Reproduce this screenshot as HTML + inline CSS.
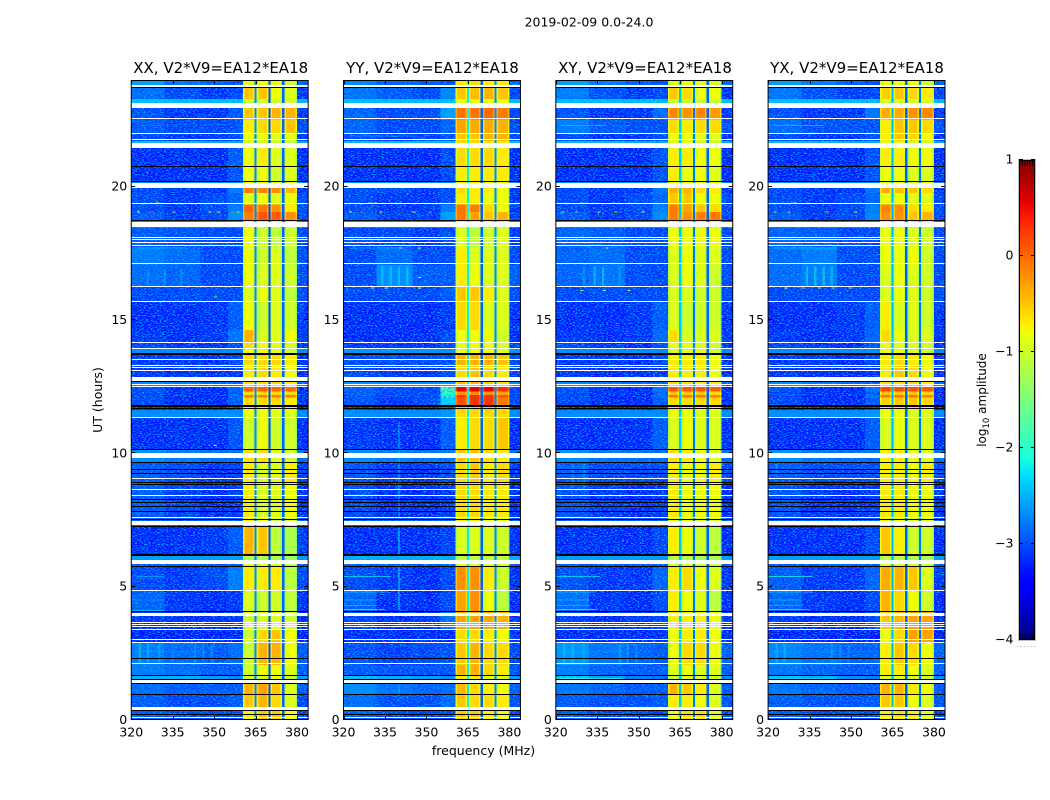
<!DOCTYPE html>
<html lang="en">
<head>
<meta charset="utf-8">
<title>2019-02-09 0.0-24.0</title>
<style>
html,body{margin:0;padding:0;background:#fff;}
svg{display:block;}
text{font-family:"DejaVu Sans","Liberation Sans",sans-serif;fill:#000;}
.tick{font-size:12.5px;}
.ptitle{font-size:15px;text-anchor:middle;}
</style>
</head>
<body>
<svg id="fig" xmlns="http://www.w3.org/2000/svg" width="1050" height="800" viewBox="0 0 1050 800">
  <defs>
    <linearGradient id="cbGrad" x1="0" y1="1" x2="0" y2="0"></linearGradient>
    <filter id="grain" x="0" y="0" width="100%" height="100%" color-interpolation-filters="sRGB">
      <feTurbulence type="fractalNoise" baseFrequency="0.45 0.9" numOctaves="2" seed="7"/>
      <feColorMatrix type="matrix" values="0 0 0 0 0  0 0 0 0 0.62  0 0 0 0 1  7 0 0 0 -3.6"/>
    </filter>
  </defs>
  <rect width="1050" height="800" fill="#fff"/>
  <text x="589" y="26.5" text-anchor="middle" font-size="12.5">2019-02-09 0.0-24.0</text>
  <text class="ptitle" x="220.7" y="73">XX, V2*V9=EA12*EA18</text>
  <text class="ptitle" x="432.5" y="73">YY, V2*V9=EA12*EA18</text>
  <text class="ptitle" x="645" y="73">XY, V2*V9=EA12*EA18</text>
  <text class="ptitle" x="857" y="73">YX, V2*V9=EA12*EA18</text>
  <text font-size="12.5" text-anchor="middle" transform="translate(102,400) rotate(-90)">UT (hours)</text>
  <text font-size="12.5" text-anchor="middle" x="483.5" y="755">frequency (MHz)</text>
  <text font-size="12" text-anchor="middle" transform="translate(986,400) rotate(-90)">log<tspan font-size="8.5" dy="3">10</tspan><tspan dy="-3"> amplitude</tspan></text>
  <g id="panels"></g>
  <g id="colorbar">
    <rect x="1019" y="160" width="16" height="480" fill="url(#cbGrad)"/>
    <rect x="1018.5" y="159.5" width="17" height="481" fill="none" stroke="#bdbdbd" stroke-width="1"/>
    <rect x="1019.5" y="160.5" width="15" height="479" fill="none" stroke="#000" stroke-width="1"/>
    <line x1="1017" x2="1035" y1="646.5" y2="646.5" stroke="#aaa" stroke-width="1" stroke-dasharray="1 2.4"/>
  </g>
</svg>
<script>
// ---- axis labels ----
const xTickValues = [320, 335, 350, 365, 380];
const yTickValues = [0, 5, 10, 15, 20];
const colorbarTicks = [-4, -3, -2, -1, 0, 1];
const colorbarMinorTicks = [1, 2, 3, 4, 5];

// ---- frequency columns (MHz) ----
const lowEdges = [320, 332, 345, 355, 360.5];
const blockEdges = [[360.5, 364.6], [365.4, 369.6], [370.4, 374.6], [375.4, 380]];
const tailEdges = [380, 384];
const blockRollOff = -0.28;
const rollOffWidth = 0.55;

// ---- start hour of each time band (the last runs to 24) ----
const bandStartHours = [0,.49,.94,1.35,1.5,1.67,2.06,2.89,3.38,4.05,4.84,5.74,5.99,6.15,7.28,7.58,8.89,9.67,10.12,11.32,11.62,11.81,12.09,12.19,12.31,12.5,12.71,13.31,13.69,13.91,14.14,14.62,15.68,16.24,17.06,17.74,18.45,18.67,18.73,19.05,19.33,19.77,19.99,20.2,20.78,21.45,21.71,21.97,22.52,22.95,23.29,23.7];

// ---- log10 amplitude per band: [low1, low2, low3, low4, block1, block2, block3, block4] ----
const xxLevels = [
[-3,-3.1,-3.1,-3.1,-.7,-.5,-.5,-.8],[-3,-3.1,-3.1,-3,-.5,-.4,-.6,-.9],[-2.9,-3,-3,-3,-.4,-.3,-.5,-.9],[-3,-3,-3,-3,-.6,-.6,-.7,-.9],
[-2.5,-2.5,-2.6,-2.7,-1,-.9,-.9,-1],[-2.8,-2.9,-3,-3,-1,-.8,-.8,-.9],[-2.8,-2.9,-3,-2.9,-1,-.4,-.4,-.8],[-3.3,-3.3,-3.3,-3.3,-1,-.6,-.5,-.8],
[-3.2,-3.25,-3.25,-3.2,-1,-.9,-.9,-1],[-2.95,-3.2,-3.25,-3.2,-.9,-1,-1,-1.1],[-3.1,-3.2,-3.1,-2.8,-.7,-.7,-.7,-1.1],[-3,-3,-3,-3,-.9,-.9,-1,-1.1],
[-2.6,-2.6,-2.6,-2.6,-1.2,-1.2,-1.2,-1.3],[-3.25,-3.25,-3.2,-3,-.4,-.5,-1.1,-1.2],[-3,-3,-3,-3,-.7,-.8,-1,-.9],[-3,-3.15,-3.25,-3.2,-.7,-.9,-.9,-.8],
[-3,-3.1,-3.2,-3.2,-.7,-.9,-.9,-.7],[-2.7,-2.8,-2.9,-2.9,-.6,-.6,-.9,-1],[-3.25,-3.25,-3.25,-3.05,-1,-.8,-1,-1],[-2.7,-2.7,-2.7,-2.7,-.8,-.8,-.9,-.9],
[-3.25,-3.25,-3.25,-3.1,-.8,-.8,-.8,-.9],[-3.1,-3.25,-3.25,-3,-.6,-.6,-.6,-.7],[-3.1,-3.25,-3.25,-2.9,-.1,-.1,-.1,-.1],[-3.1,-3.2,-3.25,-3,-.6,-.6,-.6,-.6],
[-3.05,-3.25,-3.25,-2.9,0,.05,0,0],[-2.7,-2.8,-2.9,-2.9,-.6,-.6,-.6,-.7],[-3.2,-3.25,-3.25,-3.2,-.7,-.6,-.7,-.8],[-3.2,-3.2,-3.25,-3.1,-.6,-.6,-.6,-.7],
[-2.7,-2.7,-2.7,-2.7,-.8,-.8,-.9,-1],[-3.1,-3.2,-3.25,-3.1,-.6,-.8,-.9,-1],[-3.2,-3.25,-3.2,-2.85,-.4,-.9,-.9,-.8],[-3.25,-3.25,-3.2,-3,-.8,-1,-.9,-1],
[-3.1,-3.1,-3.1,-3.1,-.9,-.8,-.9,-1.1],[-2.9,-2.95,-3.1,-3.1,-.8,-.9,-.9,-1],[-2.8,-2.9,-3.1,-3.1,-.8,-1,-.9,-1.1],[-3,-3.05,-3.1,-3.1,-.8,-1,-1.1,-1],
[-2.8,-2.8,-2.8,-2.8,-.8,-.9,-1,-1],[-2.8,-2.8,-2.8,-2.8,-.8,-.9,-1,-1],[-3,-3.2,-3.1,-2.7,-.1,.1,.05,-.2],[-3.1,-3.2,-3.1,-2.8,0,-.1,-.2,-.7],
[-3.1,-3.2,-3.1,-2.95,-.9,-.8,-.9,-.8],[-3.1,-3.2,-3.2,-2.8,-.1,-.15,-.2,-.4],[-2.7,-2.7,-2.7,-2.7,-.8,-.8,-.9,-.9],[-3.25,-3.25,-3.25,-3.05,-.8,-.8,-1,-.9],
[-3.25,-3.25,-3.25,-3,-.8,-.7,-.9,-.9],[-2.4,-2.4,-2.5,-2.5,-1,-1,-1.1,-1.1],[-3.1,-3.2,-3.2,-3.1,-.8,-.8,-.9,-.9],[-3,-3.1,-3.1,-3.05,-.7,-.6,-.6,-.5],
[-3.05,-3.2,-3.2,-3,-.5,-.5,-.4,-.4],[-2.4,-2.4,-2.4,-2.4,-1,-1,-1,-1],[-2.9,-3.1,-3.2,-3.1,-.5,-.5,-.8,-.9],[-2.6,-2.85,-2.95,-3.05,-.9,-.8,-.9,-1]
];
const yyLevels = [
[-2.95,-3.1,-3.1,-3.1,-.5,-.5,-.7,-.8],[-2.9,-3.05,-3.05,-2.9,-.5,-.6,-.6,-.7],[-2.7,-2.85,-2.95,-2.9,-.4,-.6,-.7,-.8],[-2.9,-3,-3,-3,-.5,-.6,-.7,-.8],
[-2.4,-2.5,-2.6,-2.7,-.7,-.7,-.8,-.9],[-3,-3.05,-3.05,-3.05,-.4,-.4,-.6,-.7],[-3.05,-3.15,-3.1,-3.05,-.5,-.4,-.6,-.6],[-3.25,-3.25,-3.25,-3.25,-.6,-.6,-.7,-.8],
[-3.1,-3.25,-3.2,-2.85,-.3,-.3,-.3,-.4],[-2.95,-3.25,-3.25,-3.1,-.3,-.2,-.8,-1.1],[-3.1,-3.2,-3.25,-3.1,-.2,-.2,-.7,-1],[-3,-3,-3,-3,-.9,-.9,-.9,-1],
[-2.5,-2.5,-2.5,-2.5,-1.1,-1.1,-1.1,-1.1],[-3.25,-3.25,-3.25,-3.15,-.9,-.9,-.9,-1],[-3,-3,-3,-3,-.7,-.7,-.8,-.8],[-3.1,-3.25,-3.25,-3.2,-.6,-.6,-.7,-.7],
[-3.05,-3.2,-3.2,-3.1,-.6,-.5,-.7,-.6],[-2.7,-2.8,-2.85,-2.85,-.5,-.5,-.6,-.7],[-3.2,-3.25,-3.25,-3,-.7,-.6,-.6,-.5],[-2.7,-2.7,-2.7,-2.65,-.6,-.6,-.6,-.6],
[-3.2,-3.25,-3.25,-3,-.5,-.5,-.5,-.6],[-3.05,-3.2,-3.1,-2.3,.15,.3,.3,-.1],[-3,-3.1,-3.1,-1.9,.3,.35,.3,.1],[-3,-3.1,-3.1,-2,-.2,-.2,-.2,-.3],
[-2.95,-3.1,-3.1,-1.7,.55,.55,.55,.3],[-2.65,-2.7,-2.7,-2.6,-.4,-.4,-.5,-.6],[-3.1,-3.2,-3.2,-3.1,-.6,-.5,-.6,-.7],[-3.1,-3.1,-3.1,-3.05,-.4,-.4,-.4,-.5],
[-2.65,-2.65,-2.65,-2.65,-.8,-.8,-.8,-.9],[-3.2,-3.2,-3.2,-3.1,-.9,-.8,-.8,-.9],[-3.25,-3.25,-3.25,-3.1,-.8,-.8,-.8,-1],[-3.25,-3.25,-3.25,-3.2,-.6,-.6,-.9,-.9],
[-3.1,-3.1,-3.1,-3,-.5,-.5,-.7,-.9],[-3.1,-2.7,-3,-3,-.7,-.8,-.9,-.9],[-3.1,-2.9,-3.1,-3.1,-.7,-.9,-.9,-.9],[-3.1,-3.1,-3.2,-3.1,-.9,-1.1,-1,-.9],
[-2.8,-2.8,-2.8,-2.8,-.8,-.9,-1,-1],[-2.8,-2.8,-2.8,-2.8,-.8,-.9,-1,-1],[-3,-3.15,-3.15,-2.6,-.1,-.3,-.5,-.4],[-3.1,-3.2,-3.2,-2.8,-.05,-.1,-.6,-.8],
[-3.1,-3.2,-3.2,-3.1,-.7,-.7,-.8,-.8],[-3.1,-3.1,-3.2,-3.1,-.6,-.7,-.7,-.8],[-2.65,-2.65,-2.7,-2.7,-.7,-.7,-.8,-.8],[-3.25,-3.25,-3.25,-3.1,-.7,-.7,-.7,-.7],
[-3.25,-3.25,-3.25,-3.1,-.6,-.6,-.6,-.7],[-2.4,-2.4,-2.4,-2.4,-.6,-.6,-.7,-.7],[-3.1,-3.2,-3.1,-3.05,-.5,-.5,-.4,-.4],[-2.95,-3.1,-3.1,-2.95,-.3,-.35,-.35,-.4],
[-2.95,-3.1,-3.1,-2.6,-.05,-.05,0,-.1],[-2.4,-2.4,-2.4,-2.4,-.8,-.8,-.8,-.8],[-2.85,-3,-3.1,-2.75,-.5,-.45,-.4,-.5],[-2.75,-2.95,-3,-3.05,-.7,-.6,-.7,-.7]
];
const xyLevels = [
[-3,-3.1,-3.1,-3.1,-.8,-.6,-.6,-.9],[-3,-3.05,-3.05,-3,-.7,-.7,-.8,-.9],[-2.85,-2.95,-3,-3,-.4,-.5,-.7,-.9],[-3,-3,-3,-3,-.7,-.7,-.8,-.9],
[-2.3,-2.6,-2.8,-2.9,-1,-.9,-.9,-1],[-2.8,-2.95,-3,-3,-.9,-.8,-.9,-.9],[-2.65,-2.85,-2.95,-3,-.8,-.6,-.6,-.8],[-3.25,-3.25,-3.25,-3.25,-.8,-.7,-.7,-.8],
[-3.15,-3.25,-3.2,-3.1,-.7,-.7,-.7,-.8],[-2.9,-3.2,-3.25,-3.1,-.7,-.8,-.9,-1.1],[-3.05,-3.2,-3.2,-2.95,-.7,-.6,-.8,-.9],[-3,-3,-3,-3,-.9,-1,-1,-1.1],
[-2.6,-2.6,-2.6,-2.6,-1.1,-1.1,-1.2,-1.2],[-3.25,-3.25,-3.25,-3.1,-.7,-.8,-1,-1.1],[-3,-3,-3,-3,-.8,-.8,-.9,-.9],[-3.05,-3.2,-3.25,-3.2,-.7,-.8,-.8,-.8],
[-3,-3.1,-3.1,-3.1,-.7,-.8,-.8,-.7],[-2.7,-2.85,-2.9,-2.9,-.6,-.7,-.8,-.9],[-3.25,-3.25,-3.25,-3,-.9,-.8,-.9,-.9],[-2.7,-2.7,-2.7,-2.7,-.8,-.8,-.9,-.9],
[-3.25,-3.25,-3.25,-3.1,-.7,-.7,-.8,-.8],[-3.1,-3.25,-3.25,-3,-.6,-.6,-.6,-.6],[-3.1,-3.25,-3.25,-2.9,-.05,-.05,-.05,-.1],[-3.1,-3.2,-3.25,-3,-.5,-.5,-.5,-.6],
[-3.05,-3.25,-3.25,-2.85,.1,.1,.1,.05],[-2.7,-2.8,-2.9,-2.9,-.6,-.6,-.7,-.7],[-3.2,-3.25,-3.25,-3.2,-.7,-.7,-.7,-.8],[-3.2,-3.2,-3.25,-3.1,-.7,-.7,-.7,-.8],
[-2.7,-2.7,-2.7,-2.7,-.9,-.9,-.9,-1],[-3.1,-3.2,-3.25,-3.05,-.8,-.9,-.9,-1],[-3.2,-3.25,-3.2,-2.9,-.6,-.9,-.9,-.9],[-3.25,-3.25,-3.2,-3,-.9,-1,-1,-1],
[-3.1,-3.1,-3.1,-3.1,-.9,-.9,-1,-1],[-2.95,-2.85,-3.1,-3.1,-.9,-.8,-.9,-1],[-2.95,-2.9,-3.1,-3.1,-.9,-.8,-.9,-.9],[-2.95,-3,-3.1,-3.1,-.8,-.8,-.8,-.8],
[-2.8,-2.8,-2.8,-2.8,-.8,-.9,-1,-1],[-2.8,-2.8,-2.8,-2.8,-.8,-.9,-1,-1],[-3,-3.2,-3.1,-2.7,-.1,-.2,-.1,-.1],[-3.1,-3.2,-3.1,-2.8,-.1,-.3,-.5,-.6],
[-3.1,-3.2,-3.1,-2.95,-.5,-.5,-.8,-.8],[-3.1,-3.2,-3.2,-2.85,-.35,-.4,-.6,-.7],[-2.7,-2.7,-2.7,-2.7,-.8,-.8,-.9,-.9],[-3.25,-3.25,-3.25,-3.05,-.7,-.8,-.8,-.9],
[-3.25,-3.25,-3.25,-3.05,-.7,-.7,-.8,-.8],[-2.4,-2.4,-2.5,-2.5,-.9,-.9,-1,-1],[-3.1,-3.2,-3.2,-3.05,-.8,-.8,-.9,-.9],[-2.8,-3,-3.05,-3.05,-.6,-.7,-.6,-.6],
[-3.05,-3.2,-3.2,-2.9,-.15,-.2,-.15,-.25],[-2.4,-2.4,-2.4,-2.4,-1,-1,-1,-1],[-2.8,-3.05,-3.2,-3.1,-.5,-.6,-.8,-.8],[-2.6,-2.8,-2.95,-3.05,-.9,-.8,-.9,-1]
];
const yxLevels = [
[-3,-3.1,-3.1,-3.1,-.7,-.6,-.7,-.9],[-3,-3.05,-3.05,-3,-.5,-.5,-.8,-.9],[-2.85,-2.95,-3,-3,-.4,-.4,-.7,-.8],[-3,-3,-3,-3,-.6,-.7,-.8,-.9],
[-2.4,-2.5,-2.7,-2.8,-.9,-.9,-.9,-1],[-2.85,-2.95,-3,-3,-.7,-.7,-.8,-.9],[-2.75,-2.85,-2.95,-2.95,-.7,-.5,-.6,-.8],[-3.3,-3.3,-3.3,-3.3,-.8,-.6,-.3,-.3],
[-3.2,-3.25,-3.25,-3.1,-.5,-.4,-.3,-.3],[-2.95,-3.2,-3.25,-3.1,-.4,-.6,-.8,-1],[-3,-3.2,-3.2,-2.95,-.35,-.4,-.5,-.9],[-3,-3,-3,-3,-.9,-.9,-1,-1],
[-2.6,-2.6,-2.6,-2.6,-1.1,-1.1,-1.2,-1.2],[-3.25,-3.25,-3.25,-3.1,-.5,-.7,-1,-1],[-3,-3,-3,-3,-.7,-.8,-.9,-.9],[-3.05,-3.2,-3.25,-3.2,-.7,-.7,-.8,-.8],
[-3,-3.1,-3.1,-3.1,-.7,-.7,-.8,-.7],[-2.7,-2.85,-2.9,-2.9,-.7,-.7,-.8,-.9],[-3.25,-3.25,-3.25,-3,-.9,-.8,-.9,-.9],[-2.7,-2.7,-2.7,-2.65,-.8,-.8,-.9,-.9],
[-3.25,-3.25,-3.25,-3.1,-.7,-.7,-.7,-.8],[-3.1,-3.25,-3.25,-3,-.55,-.5,-.5,-.6],[-3.1,-3.25,-3.25,-2.9,-.05,-.05,-.05,-.1],[-3.1,-3.2,-3.25,-3,-.5,-.5,-.5,-.6],
[-3.05,-3.25,-3.25,-2.85,.2,.15,.15,.1],[-2.7,-2.8,-2.9,-2.9,-.6,-.6,-.6,-.7],[-3.2,-3.25,-3.25,-3.2,-.7,-.5,-.6,-.8],[-3.2,-3.2,-3.25,-3.1,-.7,-.6,-.7,-.8],
[-2.7,-2.7,-2.7,-2.7,-.8,-.8,-.9,-1],[-3.1,-3.2,-3.25,-3.05,-.8,-.9,-.9,-1],[-3.2,-3.25,-3.2,-2.95,-.6,-.8,-.9,-.9],[-3.25,-3.25,-3.2,-3,-.7,-.9,-.9,-1],
[-3.1,-3.1,-3.1,-3.1,-.9,-.8,-.9,-1],[-2.9,-2.8,-3.1,-3.1,-.9,-.8,-.9,-1],[-2.9,-2.8,-3.1,-3.1,-.8,-.8,-.8,-1],[-2.95,-3,-3.1,-3.1,-.8,-.8,-.9,-1],
[-2.8,-2.8,-2.8,-2.8,-.8,-.9,-1,-1],[-2.8,-2.8,-2.8,-2.8,-.8,-.9,-1,-1],[-3,-3.2,-3.1,-2.75,-.2,-.2,-.5,-.4],[-3.1,-3.2,-3.1,-2.8,-.15,-.2,-.6,-.7],
[-3.1,-3.2,-3.1,-2.95,-.8,-.8,-.9,-.9],[-3.1,-3.2,-3.2,-2.85,-.35,-.45,-.5,-.6],[-2.7,-2.7,-2.7,-2.7,-.8,-.8,-.9,-.9],[-3.25,-3.25,-3.25,-3.05,-.8,-.8,-.9,-.9],
[-3.25,-3.25,-3.25,-3.05,-.7,-.7,-.8,-.8],[-2.4,-2.4,-2.5,-2.5,-.9,-.9,-1,-1],[-3.1,-3.2,-3.2,-3.05,-.7,-.5,-.6,-.8],[-2.9,-3.05,-3.05,-3.05,-.7,-.5,-.5,-.6],
[-3.05,-3.2,-3.2,-2.85,-.35,-.35,-.2,-.15],[-2.4,-2.4,-2.4,-2.4,-.9,-.9,-.9,-.9],[-2.85,-3.05,-3.15,-3.1,-.55,-.5,-.6,-.7],[-2.6,-2.8,-2.95,-3.05,-.8,-.8,-.8,-1]
];

// ---- narrow channels between blocks, per panel ----
const xxGapLevels = [-2.7, -3.0, -2.9];
const yyGapLevels = [-2.2, -2.9, -2.7];
const xyGapLevels = [-2.4, -2.8, -2.9];
const yxGapLevels = [-2.5, -2.9, -2.8];

// ---- flagged time ranges [start hour, end hour] ----
const missingRows = [[.09,.13],[.36,.48],[1.4,1.5],[2.08,2.12],[2.91,2.94],[3,3.04],[3.38,3.41],[3.49,3.53],[3.56,3.6],[3.64,3.68],[3.9,4.01],[4.84,4.88],[5.84,6],[7.31,7.46],[7.58,7.61],[8.4,8.44],[8.63,8.66],[9.04,9.08],[9.84,10.02],[11.34,11.38],[12.5,12.54],[12.56,12.6],[12.71,12.87],[13.07,13.11],[13.2,13.24],[13.28,13.31],[13.48,13.52],[13.91,13.95],[14.14,14.18],[15.68,15.71],[16.22,16.26],[17.1,17.14],[17.79,17.83],[17.89,17.93],[17.98,18.02],[18.08,18.11],[18.46,18.66],[19.35,19.39],[19.97,20.14],[21.45,21.64],[21.75,21.79],[21.975,22.01],[22.52,22.56],[22.95,23.14],[23.74,23.81]];
const zeroRows = [[.19,.22],[.32,.36],[.94,.98],[1.35,1.39],[1.48,1.52],[1.63,1.67],[2.29,2.33],[4.05,4.09],[5.74,5.78],[6.15,6.22],[7.26,7.29],[7.5,7.54],[7.8,7.84],[7.97,8.01],[8.12,8.16],[8.25,8.29],[8.81,8.85],[8.91,8.94],[9.23,9.26],[9.38,9.41],[9.64,9.68],[10.12,10.17],[11.65,11.69],[11.75,11.81],[12.68,12.71],[13.7,13.77],[18.71,18.75],[20.2,20.23],[20.76,20.79],[23.7,23.74]];

// ---- isolated interference: [frequency MHz, hour, log10 amplitude] ----
const xxSpikes = [[322,19.05,-.9],[327,19.05,.1],[335,19.05,-.5],[341,19.05,.4],[348,19.05,-.9],[351,19.05,-.9],[356,19.05,-.1],[358,19.05,-1],[329,19.38,-.8],[345,17.8,-1.3],[350,15.87,-1.2],[350,10.3,-1.4]];
const yySpikes = [[322,19.05,-.7],[326,19.05,.1],[333,19.05,-.7],[340,19.05,.4],[345,19.05,-.9],[351,19.05,-.1],[329,19.38,-.6],[331,19.38,-.8],[340,17.7,-1.3],[347,17.7,-1.2],[347,16.6,-1.3],[347,16.2,-1.1],[330,16.2,-1.2],[335,16.2,-1.2]];
const xySpikes = [[322,19.05,-.9],[327,19.05,-.4],[335,19.05,-.8],[341,19.05,-.2],[351,19.05,-.8],[329,19.38,-1],[338,17.7,-1.2],[329,16.1,-1.3],[337,16.1,-1.3],[346,16.1,-1.3]];
const yxSpikes = [[322,19.05,-.9],[327,19.05,-.4],[341,19.05,-.2],[351,19.05,-.8],[329,19.38,-1],[326,16.2,-1.2],[332,16.2,-1.2],[338,16.2,-1.2],[343,16.2,-1.4],[349,16.2,-1.2]];

// ---- faint vertical structure: [frequency MHz, start hour, end hour, log10 amplitude] ----
const xxChannelLines = [[323,2.15,2.85,-2.2],[326,2.15,2.85,-2.3],[330,2.15,2.85,-2.4],[335,2.15,2.85,-2.6],[343,2.15,2.85,-2.5],[346,2.15,2.85,-2.5],[349,2.15,2.85,-2.5],[326,16.3,16.9,-2.5],[332,16.3,16.9,-2.5],[338,16.3,16.9,-2.5]];
const yyChannelLines = [[340,4.1,5.8,-2.2],[340,6.2,7.2,-2.2],[340,7.6,11.2,-2.4],[340,0.9,1.3,-2.4],[334,16.3,17,-2.2],[337,16.3,17,-2.2],[340,16.3,17,-2.2],[343,16.3,17,-2.2]];
const xyChannelLines = [[323,2.15,2.85,-2.3],[326,2.15,2.85,-2.3],[330,2.15,2.85,-2.4],[343,2.15,2.85,-2.4],[346,2.15,2.85,-2.4],[349,2.15,2.85,-2.5],[330,16.3,17,-2.4],[334,16.3,17,-2.2],[337,16.3,17,-2.1],[343,16.3,17,-2.5],[326,8.7,9.6,-2.5],[330,8.7,9.6,-2.5]];
const yxChannelLines = [[323,2.15,2.85,-2.3],[326,2.15,2.85,-2.3],[343,2.15,2.85,-2.5],[346,2.15,2.85,-2.5],[349,2.15,2.85,-2.5],[323,9.2,9.6,-2.5],[334,16.3,17,-2.1],[337,16.3,17,-2],[340,16.3,17,-2.1],[343,16.3,17,-2.2]];

// ---- faint horizontal structure: [start MHz, end MHz, hour, log10 amplitude] ----
const xxStreaks = [[322,332,5.38,-2.5],[320,332,4.1,-2.3],[320,332,4.5,-2.6],[322,340,17.7,-2.4],[322,340,22,-2.5]];
const yyStreaks = [[320,337,5.38,-2.2],[320,336,4.8,-2.3],[320,332,4.5,-2.4],[320,332,4.3,-2.4],[320,335,4.15,-2.1],[322,340,17.7,-2.5],[322,345,21.9,-2.5]];
const xyStreaks = [[320,336,5.38,-2.2],[320,334,4.8,-2.3],[320,332,4.5,-2.4],[320,332,4.3,-2.4],[320,335,4.15,-2.1],[322,345,22,-2.3],[322,338,22.3,-2.4],[320,344,1.55,-2.1]];
const yxStreaks = [[320,336,5.38,-2.1],[320,336,4.8,-2.3],[320,332,4.5,-2.4],[320,332,4.3,-2.4],[320,335,4.15,-2.1],[322,340,22.3,-2.4],[322,345,17.7,-2.3],[320,344,1.55,-2.3]];

// ---- axes geometry ----
const axesLeft = [131.25, 343.53, 555.82, 768.1];
const axesWidth = 176.9;
const axesTop = 80, axesBottom = 720;
const freqMin = 320, freqMax = 384;
const NS = 'http://www.w3.org/2000/svg';
const panelKeys = ['xx', 'yy', 'xy', 'yx'];
const panelLevels = [xxLevels, yyLevels, xyLevels, yxLevels];
const panelGaps = [xxGapLevels, yyGapLevels, xyGapLevels, yxGapLevels];
const panelSpikes = [xxSpikes, yySpikes, xySpikes, yxSpikes];
const panelLines = [xxChannelLines, yyChannelLines, xyChannelLines, yxChannelLines];
const panelStreaks = [xxStreaks, yyStreaks, xyStreaks, yxStreaks];

function xScale(p, f) { return axesLeft[p] + (f - freqMin) / (freqMax - freqMin) * axesWidth; }
function yScale(h) { return axesBottom - h / 24 * (axesBottom - axesTop); }
function cbScale(v) { return 640 - (v + 4) / 5 * 480; }

// matplotlib "jet" segment data
const jetR = [[0,0],[.35,0],[.66,1],[.89,1],[1,.5]];
const jetG = [[0,0],[.125,0],[.375,1],[.64,1],[.91,0],[1,0]];
const jetB = [[0,.5],[.11,1],[.34,1],[.65,0],[1,0]];
function seg(a, t) {
  for (let i = 1; i < a.length; i++) {
    if (t <= a[i][0]) return a[i-1][1] + (a[i][1] - a[i-1][1]) * (t - a[i-1][0]) / (a[i][0] - a[i-1][0]);
  }
  return a[a.length-1][1];
}
function jet(v) {
  const t = Math.max(0, Math.min(1, (v + 4) / 5));
  return 'rgb(' + Math.round(seg(jetR,t)*255) + ',' + Math.round(seg(jetG,t)*255) + ',' + Math.round(seg(jetB,t)*255) + ')';
}
function mk(tag, attrs, parent) {
  const el = document.createElementNS(NS, tag);
  for (const k in attrs) el.setAttribute(k, attrs[k]);
  parent.appendChild(el);
  return el;
}

const panelsRoot = document.getElementById('panels');

function drawCell(parent, p, f0, f1, h0, h1, v) {
  const x0 = xScale(p, f0);
  const x1 = xScale(p, f1);
  const cell = mk('rect', { x: x0, y: yScale(h1), width: x1 - x0, height: yScale(h0) - yScale(h1), fill: jet(v), 'shape-rendering': 'crispEdges' }, parent);
  
  
}

panelKeys.forEach(function (key, p) {
  const g = mk('g', {}, panelsRoot);
  
  
  const levels = panelLevels[p];
  const gaps = panelGaps[p];

  // heatmap cells
  levels.forEach(function (row, b) {
    const h0 = bandStartHours[b];
    const h1 = b + 1 < bandStartHours.length ? bandStartHours[b + 1] : 24;
    for (let i = 0; i < 4; i++) drawCell(g, p, lowEdges[i], lowEdges[i + 1], h0, h1, row[i]);
    for (let i = 0; i < 4; i++) {
      const e = blockEdges[i];
      const v = row[4 + i];
      drawCell(g, p, e[0], e[0] + rollOffWidth, h0, h1, v + blockRollOff);
      drawCell(g, p, e[0] + rollOffWidth, e[1] - rollOffWidth, h0, h1, v);
      drawCell(g, p, e[1] - rollOffWidth, e[1], h0, h1, v + blockRollOff);
      if (i < 3) drawCell(g, p, e[1], blockEdges[i + 1][0], h0, h1, gaps[i]);
    }
    drawCell(g, p, tailEdges[0], tailEdges[1], h0, h1, row[2]);
  });

  // speckle texture over the quiet background (cosmetic only)
  const tex = mk('rect', { x: xScale(p, 320), y: axesTop, width: xScale(p, 360.4) - xScale(p, 320), height: axesBottom - axesTop, fill: '#fff', filter: 'url(#grain)' }, g);
  
  
  const tex2 = mk('rect', { x: xScale(p, 380), y: axesTop, width: xScale(p, 384) - xScale(p, 380), height: axesBottom - axesTop, fill: '#fff', filter: 'url(#grain)' }, g);
  
  

  // vertical structure
  panelLines[p].forEach(function (l) {
    const line = mk('rect', { x: xScale(p, l[0]) - 1, y: yScale(l[2]), width: 2.4, height: yScale(l[1]) - yScale(l[2]), fill: jet(l[3]), opacity: .45, 'shape-rendering': 'crispEdges' }, g);
    
    
  });

  // horizontal structure
  panelStreaks[p].forEach(function (s) {
    const st = mk('rect', { x: xScale(p, s[0]), y: yScale(s[2]) - .5, width: xScale(p, s[1]) - xScale(p, s[0]), height: 1, fill: jet(s[3]), opacity: .7, 'shape-rendering': 'crispEdges' }, g);
    
    
  });

  // isolated spikes
  panelSpikes[p].forEach(function (s) {
    const sp = mk('rect', { x: xScale(p, s[0]), y: yScale(s[1]) - .5, width: 3, height: 1, fill: jet(s[2]), 'shape-rendering': 'crispEdges' }, g);
    
    
  });

  // flagged rows
  missingRows.forEach(function (r) {
    const w = mk('rect', { x: axesLeft[p], y: Math.round(yScale(r[1])), width: axesWidth, height: Math.max(1, Math.round(yScale(r[0]) - yScale(r[1]))), fill: '#fff', 'shape-rendering': 'crispEdges' }, g);
    
    
  });
  zeroRows.forEach(function (r) {
    const k = mk('rect', { x: axesLeft[p], y: Math.round(yScale(r[1])), width: axesWidth, height: Math.max(1, Math.round(yScale(r[0]) - yScale(r[1]))), fill: '#000', 'shape-rendering': 'crispEdges' }, g);
    
    
  });

  // frame
  const frame = mk('rect', { x: axesLeft[p], y: axesTop + .5, width: axesWidth, height: axesBottom - axesTop - 1, fill: 'none', stroke: '#000', 'stroke-width': 1 }, g);
  
  

  // x ticks
  xTickValues.forEach(function (t) {
    const x = Math.round(xScale(p, t)) + .5;
    const a = mk('line', { x1: x, x2: x, y1: axesBottom, y2: axesBottom - 4, stroke: '#000', 'stroke-width': 1 }, g);
    
    
    const b = mk('line', { x1: x, x2: x, y1: axesTop, y2: axesTop + 4, stroke: '#000', 'stroke-width': 1 }, g);
    
    
    const label = mk('text', { x: xScale(p, t), y: 736.5, class: 'tick', 'text-anchor': 'middle' }, g);
    label.textContent = String(t);
    
    
  });

  // y ticks
  yTickValues.forEach(function (t) {
    const y = Math.round(yScale(t)) - .5;
    const a = mk('line', { x1: axesLeft[p], x2: axesLeft[p] + 4, y1: y, y2: y, stroke: '#000', 'stroke-width': 1 }, g);
    
    
    const b = mk('line', { x1: axesLeft[p] + axesWidth - 4, x2: axesLeft[p] + axesWidth, y1: y, y2: y, stroke: '#000', 'stroke-width': 1 }, g);
    
    
    const label = mk('text', { x: axesLeft[p] - 4, y: yScale(t) + 4, class: 'tick', 'text-anchor': 'end' }, g);
    label.textContent = String(t);
    
    
  });
});

// colorbar
const grad = document.getElementById('cbGrad');
for (let i = 0; i <= 50; i++) {
  mk('stop', { offset: (i / 50), 'stop-color': jet(-4 + i / 10) }, grad);
}
const cb = document.getElementById('colorbar');
colorbarTicks.forEach(function (t) {
  const y = Math.round(cbScale(t)) - .5;
  const a = mk('line', { x1: 1019, x2: 1023, y1: y, y2: y, stroke: '#000', 'stroke-width': 1 }, cb);
  
  
  const b = mk('line', { x1: 1031, x2: 1035, y1: y, y2: y, stroke: '#000', 'stroke-width': 1 }, cb);
  
  
  const label = mk('text', { x: 1013.5, y: cbScale(t) + 3.5, class: 'tick', 'text-anchor': 'end' }, cb);
  label.textContent = (t < 0 ? '\u2212' + Math.abs(t) : String(t));
  
  
});
colorbarMinorTicks.forEach(function (m) {
  const x = 1019.5 + m * 2.5 + .5;
  const top = mk('line', { x1: x, x2: x, y1: 161, y2: 166, stroke: '#000', 'stroke-width': .8 }, cb);
  
  
  const bottom = mk('line', { x1: x, x2: x, y1: 634, y2: 639, stroke: '#000', 'stroke-width': .8 }, cb);
  
  
});
</script>
</body>
</html>
